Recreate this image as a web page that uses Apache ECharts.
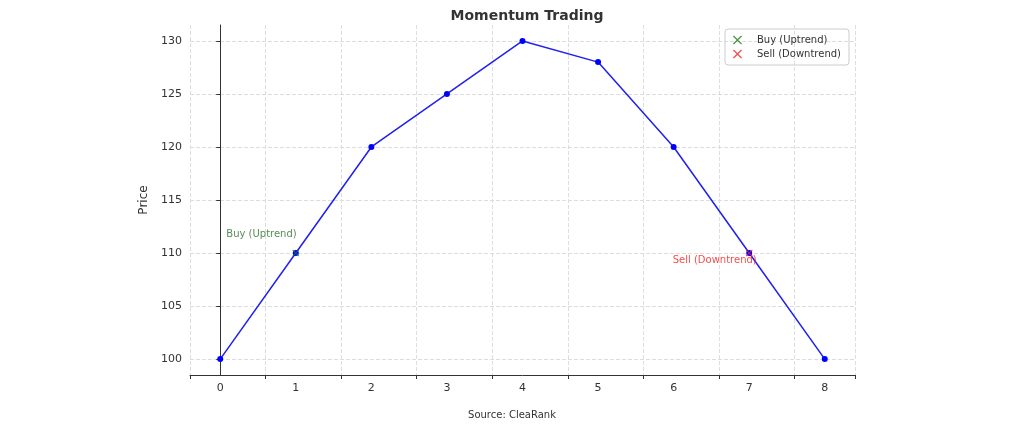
<!DOCTYPE html><html><head><meta charset="utf-8"><script src="https://cdn.jsdelivr.net/npm/echarts@6/dist/echarts.min.js"></script><style>html,body{margin:0;padding:0;background:#fff}#c{width:1024px;height:439px}</style></head><body><div id="c"></div><script>
var days=[0,1,2,3,4,5,6,7,8];
var prices=[100,110,120,125,130,128,120,110,100];
var buyPts=[[1,110]];
var sellPts=[[7,110]];
var yTicks=[100,105,110,115,120,125,130];
var X='path://M0,0L2,2M2,0L0,2';
var xPath='path://M1,0L5,4L9,0L10,1L6,5L10,9L9,10L5,6L1,10L0,9L4,5L0,1Z';
var c=echarts.init(document.getElementById('c'));
c.setOption({
 animation:false,
 title:{text:'Momentum Trading',left:522,top:4,textAlign:'center',textStyle:{fontFamily:'DejaVu Sans',fontSize:14,fontWeight:'bold',color:'#333'}},
 legend:{right:175,top:29,orient:'vertical',itemGap:4,itemWidth:9,itemHeight:9,borderColor:'#ccc',borderWidth:1,borderRadius:3,padding:[6,8,6,8],textStyle:{fontFamily:'DejaVu Sans',fontSize:10,color:'#333',padding:[0,0,0,10]},data:[{name:'Buy (Uptrend)',icon:xPath},{name:'Sell (Downtrend)',icon:xPath}]},
 graphic:[{type:'text',left:'center',top:410,style:{text:'Source: CleaRank',font:'10px DejaVu Sans',fill:'#333'}}],
 grid:{left:190,right:169,top:25,bottom:64},
 xAxis:{type:'value',min:-0.4,max:8.4,interval:1,axisLine:{lineStyle:{color:'#333'}},axisTick:{show:true,length:4,lineStyle:{color:'#333'}},
  axisLabel:{fontFamily:'DejaVu Sans',fontSize:11,color:'#333',formatter:function(v){return Math.abs(v-Math.round(v))<1e-6&&v>=0&&v<=8?String(Math.round(v)):'';},customValues:days},
  splitLine:{show:true,lineStyle:{type:'dashed',color:'#ddd'}},customValues:days},
 yAxis:{type:'value',name:'Price',nameLocation:'middle',nameGap:36,nameTextStyle:{fontFamily:'DejaVu Sans',fontSize:12,color:'#333'},min:98.5,max:131.5,
  axisLine:{show:true,lineStyle:{color:'#333'}},axisTick:{show:true,length:4,lineStyle:{color:'#333'},customValues:yTicks},
  axisLabel:{fontFamily:'DejaVu Sans',fontSize:11,color:'#333',customValues:yTicks},
  splitLine:{show:true,lineStyle:{type:'dashed',color:'#ddd'}}},
 series:[
  {name:'Price',type:'line',data:days.map(function(d,i){return [d,prices[i]];}),symbol:'circle',symbolSize:6,itemStyle:{color:'#0000ff'},lineStyle:{color:'#2020f0',width:1.5},z:2},
  {name:'Buy (Uptrend)',type:'scatter',data:buyPts,symbol:xPath,symbolSize:7,itemStyle:{color:'#1f7a1f'},z:3,
   label:{show:true,formatter:'Buy (Uptrend)',position:[-66,-20],fontFamily:'DejaVu Sans',fontSize:10,color:'#2e6e2e'}},
  {name:'Sell (Downtrend)',type:'scatter',data:sellPts,symbol:xPath,symbolSize:7,itemStyle:{color:'#ee2222'},z:3,
   label:{show:true,formatter:'Sell (Downtrend)',position:[-73,6],fontFamily:'DejaVu Sans',fontSize:10,color:'#ee2222'}}
 ]
});
</script></body></html>
